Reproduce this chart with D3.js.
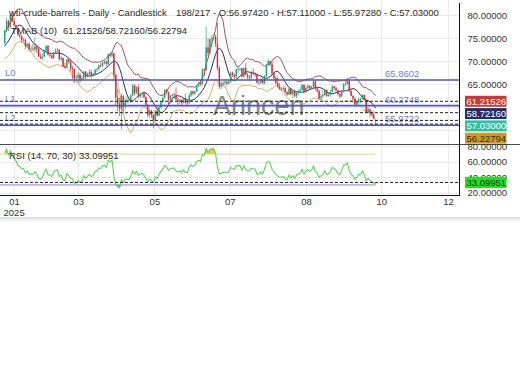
<!DOCTYPE html>
<html>
<head>
<meta charset="utf-8">
<script src="https://cdn.jsdelivr.net/npm/d3@7"></script>
<style>
  body { margin: 0; background: #fff; }
  svg { display: block; font-family: "Liberation Sans", Arial, sans-serif; }
</style>
</head>
<body>
<svg id="chart" width="520" height="390"></svg>
<script>
// ---- texts shown on the chart
var title = "wti-crude-barrels - Daily - Candlestick";
var quote = "198/217 - O:56.97420 - H:57.11000 - L:55.97280 - C:57.03000";
var tmabName = "TMAB (10)";
var tmabValues = "61.21526/58.72160/56.22794";
var rsiName = "RSI (14, 70, 30)";
var rsiValue = "33.09951";
var watermark = "Arincen";

// ---- daily bars (Jan 10 .. Oct 2025), one value per bar
var opens = [
  73.9,76.6,78.8,77.5,80.0,78.7,77.9,77.2,75.8,75.4,74.6,74.7,73.2,73.8,72.6,72.7,
  72.5,73.2,72.7,71.0,70.6,71.0,72.3,73.3,71.4,71.3,70.7,71.9,72.3,72.5,70.4,70.7,68.9,68.6,70.4,
  69.8,68.4,68.3,66.3,66.4,67.0,66.0,66.3,67.7,66.6,67.2,67.6,66.9,67.2,68.1,68.3,69.1,69.0,69.7,69.9,69.4,
  71.5,71.2,71.7,67.0,62.0,60.7,59.6,62.4,60.1,61.5,61.5,61.3,62.5,64.7,63.1,64.3,62.3,62.8,63.0,62.1,60.4,
  58.2,59.2,58.3,57.1,59.1,58.1,59.9,61.0,62.0,63.7,63.2,61.6,62.5,62.7,62.6,61.6,61.2,61.5,60.9,61.8,60.9,
  60.8,62.5,63.4,62.9,63.4,64.6,65.3,65.0,68.2,68.0,73.0,71.8,74.8,75.1,75.3,73.8,68.5,64.4,64.9,65.2,65.5,
  65.1,65.5,67.5,67.0,66.6,68.3,68.3,68.4,66.6,68.5,67.0,66.5,66.4,67.5,67.3,67.2,65.3,65.3,66.0,65.2,66.7,69.2,70.0,
  69.3,67.3,66.3,65.2,64.4,63.9,63.9,64.1,63.2,62.7,64.0,62.8,63.4,62.4,63.2,63.5,63.7,64.8,63.3,64.2,64.6,
  64.0,64.4,65.6,64.0,63.5,61.9,62.3,62.6,63.7,62.4,62.7,63.3,64.5,64.1,63.6,62.7,62.3,63.4,65.0,65.0,65.7,63.5,
  62.4,61.8,60.5,60.9,61.7,61.7,62.6,61.5,58.9,59.5,58.7,58.3,56.9742
];
var highs = [
  77.0,79.4,79.0,80.2,80.8,79.4,78.0,77.4,76.0,75.7,75.1,74.8,74.0,74.1,73.4,73.9,
  75.2,73.7,72.9,71.6,71.6,72.6,73.5,73.6,71.8,71.5,72.0,72.8,72.9,72.6,71.2,70.8,69.6,70.5,70.6,
  70.3,68.9,68.4,67.0,67.6,67.5,66.8,67.8,67.9,67.5,68.2,68.1,67.5,68.4,68.6,69.3,69.6,69.9,70.2,70.0,71.7,
  71.9,72.2,71.9,67.2,63.9,62.0,62.9,62.6,61.9,62.4,62.0,62.8,64.9,64.9,64.5,64.9,63.1,63.2,63.4,62.3,60.6,
  59.5,59.4,58.4,59.3,60.0,60.2,61.3,62.7,63.9,64.0,63.3,62.6,62.9,63.1,64.2,61.9,61.8,61.8,62.0,62.9,61.5,
  63.0,63.6,63.5,63.6,64.7,65.5,65.8,68.4,68.4,77.6,75.0,75.0,75.7,75.9,75.8,78.4,69.0,65.3,65.7,66.0,65.6,
  66.0,67.6,67.7,67.2,68.4,68.9,68.6,68.5,68.6,69.6,67.4,66.9,67.8,68.4,67.6,67.3,66.0,66.3,66.4,67.0,69.4,70.5,70.1,
  69.9,67.6,66.6,66.5,65.2,64.4,64.6,64.3,63.5,64.1,64.1,63.7,63.5,63.4,63.8,64.3,65.0,64.9,64.3,64.9,64.7,
  64.6,66.0,65.7,64.3,63.8,62.9,63.6,64.0,63.8,63.2,63.7,64.8,64.6,64.4,63.8,63.1,63.6,65.2,65.6,66.4,65.8,63.9,
  62.5,62.0,61.2,62.0,62.0,62.8,62.7,61.6,60.0,59.7,59.1,59.0,57.11
];
var lows = [
  73.7,76.4,76.6,77.3,78.5,77.6,76.8,75.5,75.1,74.0,74.1,72.6,73.0,72.1,72.0,72.3,
  71.9,71.8,70.9,70.5,70.2,70.9,71.8,71.2,70.8,70.4,70.5,71.6,71.8,70.2,70.0,68.6,68.3,68.5,69.5,
  67.8,66.0,65.2,65.7,65.2,65.2,65.6,65.9,66.1,66.4,66.9,66.2,66.6,66.8,67.6,68.1,68.7,68.6,69.3,68.9,69.1,
  70.8,70.9,65.6,60.2,59.0,58.0,55.1,58.8,59.4,60.7,60.8,60.9,62.3,62.5,62.8,61.9,61.9,62.0,61.8,60.3,57.8,
  57.6,57.5,55.3,56.9,57.9,57.9,59.6,60.9,61.8,62.8,60.6,61.4,61.2,61.7,61.4,60.3,60.6,60.3,60.7,60.7,60.1,
  60.7,62.1,62.5,62.6,63.2,64.3,64.6,64.7,66.7,67.9,71.0,71.4,73.1,74.5,73.1,68.0,64.0,63.9,64.6,64.8,64.6,
  64.9,65.3,66.5,66.0,66.1,67.5,67.8,66.4,66.4,66.9,66.1,65.7,65.9,67.0,66.6,65.1,64.8,65.0,64.9,64.9,66.5,68.9,68.9,
  67.0,65.8,64.9,64.2,63.7,63.4,63.5,62.9,62.4,62.6,62.5,62.0,62.1,61.9,62.6,63.0,63.5,62.9,63.0,63.8,63.8,
  63.9,64.2,63.6,63.1,61.5,61.4,62.0,62.4,62.1,62.2,62.3,63.2,63.6,63.3,62.5,61.9,62.1,63.3,64.6,64.9,63.2,62.3,
  61.5,60.3,60.1,60.8,60.9,61.6,61.3,58.6,58.6,57.7,57.9,57.3,55.9728
];
var closes = [
  76.6,78.8,77.5,80.0,78.7,77.9,77.2,75.8,75.4,74.6,74.7,73.2,73.8,72.6,72.7,72.5,
  73.2,72.7,71.0,70.6,71.0,72.3,73.3,71.4,71.3,70.7,71.9,72.3,72.5,70.4,70.7,68.9,68.6,70.4,69.8,
  68.4,68.3,66.3,66.4,67.0,66.0,66.3,67.7,66.6,67.2,67.6,66.9,67.2,68.1,68.3,69.1,69.0,69.7,69.9,69.4,71.5,
  71.2,71.7,67.0,62.0,60.7,59.6,62.4,60.1,61.5,61.5,61.3,62.5,64.7,63.1,64.3,62.3,62.8,63.0,62.1,60.4,58.2,
  59.2,58.3,57.1,59.1,58.1,59.9,61.0,62.0,63.7,63.2,61.6,62.5,62.7,62.6,61.6,61.2,61.5,60.9,61.8,60.9,60.8,
  62.5,63.4,62.9,63.4,64.6,65.3,65.0,68.2,68.0,73.0,71.8,74.8,75.1,75.3,73.8,68.5,64.4,64.9,65.2,65.5,65.1,
  65.5,67.5,67.0,66.6,68.3,68.3,68.4,66.6,68.5,67.0,66.5,66.4,67.5,67.3,67.2,65.3,65.3,66.0,65.2,66.7,69.2,70.0,69.3,
  67.3,66.3,65.2,64.4,63.9,63.9,64.1,63.2,62.7,64.0,62.8,63.4,62.4,63.2,63.5,63.7,64.8,63.3,64.2,64.6,64.0,
  64.4,65.6,64.0,63.5,61.9,62.3,62.6,63.7,62.4,62.7,63.3,64.5,64.1,63.6,62.7,62.3,63.4,65.0,65.0,65.7,63.5,62.4,
  61.8,60.5,60.9,61.7,61.7,62.6,61.5,58.9,59.5,58.7,58.3,57.5,57.03
];

// bars before the visible window, only used to warm up the indicators
var preHighs  = [70.9,70.7,71.4,71.5,70.9,70.9,70.6,69.9,69.7,70.2,70.2,70.7,71.2,72.0,73.5,74.2,74.7,74.8,74.3,74.1];
var preLows   = [68.4,69.6,69.8,70.5,69.9,69.5,68.9,68.8,68.7,69.1,69.1,69.2,70.3,70.4,71.4,72.9,73.3,73.5,72.7,73.1];
var preCloses = [70.3,70.0,71.3,70.7,70.1,70.6,69.9,69.5,69.2,70.1,69.6,70.6,71.0,71.7,73.1,74.0,73.6,74.3,73.3,73.9];

// ---- levels, last values and ticks
var levelNames = ["L0", "L1", "L2"];
var levelValues = [65.8602, 60.2748, 55.9722];
var lastValues = [61.21526, 58.72160, 57.03000, 56.22794]; // TMAB upper, TMAB mid, close, TMAB lower
var rsiLast = 33.09951;
var rsiBands = [70, 30];
var priceGrid = [55, 60, 65, 70, 75, 80];
var priceTicks = [65, 70, 75, 80];   // 55 and 60 sit under the value tags
var rsiTicks = [20, 40, 60, 80];
var monthBars = [5, 39, 79.5, 119.5, 160, 200, 235.5];
var monthLabels = ["01", "03", "05", "07", "08", "10", "12"];
var yearLabel = "2025";

// ---- styles
var col = {
  up: "#23a07f", down: "#e3262c",
  upper: "#a3545f", mid: "#2b2d6e", lower: "#c9b46c",
  level: "#5157ad", levelText: "#7081c6",
  rsi: "#5dd35d", ob: "#efdc9a", os: "#ab97e6",
  obFill: "#e2cd4f", osFill: "#8f86e0",
  grid: "#ebebeb", text: "#2a2a2a"
};
var tagFill = ["#c93a36", "#2a2c6a", "#2fbfa3", "#cf9a2c"];
var tagInk = ["#fff", "#fff", "#fff", "#3a2a00"];

var svg = d3.select("#chart");
var plotRight = 459.5;

var x = d3.scaleLinear().domain([0, 197]).range([4.7, 375.6]);
var y = d3.scaleLinear().domain([51.65, 83.38]).range([145, 0]);
var yr = d3.scaleLinear().domain([15.5, 80.5]).range([196, 146]);

svg.append("rect").attr("width", 520).attr("height", 390).attr("fill", "#fff");

var defs = svg.append("defs");
defs.append("clipPath").attr("id", "clipMain").append("rect")
  .attr("x", 0).attr("y", 0).attr("width", plotRight).attr("height", 144);
defs.append("clipPath").attr("id", "clipRsi").append("rect")
  .attr("x", 0).attr("y", 145).attr("width", plotRight).attr("height", 50.5);
var grad = defs.append("linearGradient").attr("id", "shade")
  .attr("x1", 0).attr("x2", 0).attr("y1", 0).attr("y2", 1);
grad.append("stop").attr("offset", "0%").attr("stop-color", "#dcdcdc");
grad.append("stop").attr("offset", "100%").attr("stop-color", "#fff");

// ---- indicators computed from the bars
var allC = preCloses.concat(closes);
var allH = preHighs.concat(highs);
var allL = preLows.concat(lows);
var off = preCloses.length;

function sma(arr, n) {
  return arr.map(function(v, i) {
    if (i < n - 1) return NaN;
    var win = arr.slice(i - n + 1, i + 1);
    if (win.some(function(w) { return isNaN(w); })) return NaN;
    return d3.mean(win);
  });
}
var tma = sma(sma(allC, 5), 6);
var tr = allC.map(function(c, i) {
  if (i === 0) return allH[i] - allL[i];
  return Math.max(allH[i] - allL[i], Math.abs(allH[i] - allC[i - 1]), Math.abs(allL[i] - allC[i - 1]));
});
var atr = sma(tr, 10);
var bandK = 1.7;

var rsiAll = allC.map(function() { return NaN; });
var ag = 0, al = 0;
for (var i = 1; i <= 14; i++) {
  var d0 = allC[i] - allC[i - 1];
  if (d0 > 0) ag += d0; else al -= d0;
}
ag /= 14; al /= 14;
rsiAll[14] = 100 - 100 / (1 + ag / al);
for (var j = 15; j < allC.length; j++) {
  var d1 = allC[j] - allC[j - 1];
  ag = (ag * 13 + Math.max(d1, 0)) / 14;
  al = (al * 13 + Math.max(-d1, 0)) / 14;
  rsiAll[j] = al === 0 ? 100 : 100 - 100 / (1 + ag / al);
}

var bars = d3.range(closes.length);
var upperBand = bars.map(function(i) { return tma[i + off] + bandK * atr[i + off]; });
var midBand = bars.map(function(i) { return tma[i + off]; });
var lowerBand = bars.map(function(i) { return tma[i + off] - bandK * atr[i + off]; });
var rsi = bars.map(function(i) { return rsiAll[i + off]; });

// ---- grid
var grid = svg.append("g");
grid.selectAll("line.h").data(priceGrid).join("line")
  .attr("x1", 0).attr("x2", plotRight)
  .attr("y1", function(d) { return Math.round(y(d)) + 0.5; })
  .attr("y2", function(d) { return Math.round(y(d)) + 0.5; })
  .attr("stroke", col.grid);
grid.selectAll("line.r").data(rsiTicks).join("line")
  .attr("x1", 0).attr("x2", plotRight)
  .attr("y1", function(d) { return Math.round(yr(d)) + 0.5; })
  .attr("y2", function(d) { return Math.round(yr(d)) + 0.5; })
  .attr("stroke", col.grid);
grid.selectAll("line.v").data(monthBars).join("line")
  .attr("x1", function(d) { return Math.round(x(d)) + 0.5; })
  .attr("x2", function(d) { return Math.round(x(d)) + 0.5; })
  .attr("y1", 0).attr("y2", 196)
  .attr("stroke", col.grid);

// ---- watermark
svg.append("text").attr("x", 213).attr("y", 115)
  .attr("font-size", 27).attr("fill", "#5e5e5e").attr("opacity", 0.75)
  .text(watermark);

// ---- main panel
var gMain = svg.append("g").attr("clip-path", "url(#clipMain)");

function bandLine(vals) {
  return d3.line()
    .defined(function(d) { return !isNaN(d); })
    .x(function(d, i) { return x(i); })
    .y(function(d) { return y(d); })(vals);
}
[[upperBand, col.upper], [lowerBand, col.lower], [midBand, col.mid]].forEach(function(b) {
  gMain.append("path").attr("d", bandLine(b[0]))
    .attr("fill", "none").attr("stroke", b[1]).attr("stroke-width", 1);
});

var candle = gMain.selectAll("g.candle").data(bars).join("g").attr("class", "candle");
function barColor(i) { return closes[i] >= opens[i] ? col.up : col.down; }
candle.append("line")
  .attr("x1", function(i) { return x(i); }).attr("x2", function(i) { return x(i); })
  .attr("y1", function(i) { return y(highs[i]); }).attr("y2", function(i) { return y(lows[i]); })
  .attr("stroke", barColor).attr("stroke-width", 0.7);
candle.append("rect")
  .attr("x", function(i) { return x(i) - 0.7; })
  .attr("width", 1.4)
  .attr("y", function(i) { return y(Math.max(opens[i], closes[i])); })
  .attr("height", function(i) { return Math.max(0.8, Math.abs(y(opens[i]) - y(closes[i]))); })
  .attr("fill", barColor);

// levels
levelValues.forEach(function(v, k) {
  var ly = y(v);
  svg.append("line").attr("x1", 0).attr("x2", plotRight).attr("y1", ly).attr("y2", ly)
    .attr("stroke", col.level).attr("stroke-width", 1.6);
  svg.append("text").attr("x", 5).attr("y", ly - 4)
    .attr("font-size", 9.5).attr("fill", col.levelText).text(levelNames[k]);
  svg.append("text").attr("x", 385).attr("y", ly - 3)
    .attr("font-size", 9.5).attr("fill", col.levelText).text(v.toFixed(4));
});

// last value dashed lines
lastValues.forEach(function(v) {
  svg.append("line").attr("x1", 0).attr("x2", plotRight).attr("y1", y(v)).attr("y2", y(v))
    .attr("stroke", "#222").attr("stroke-width", 1).attr("stroke-dasharray", "3,2");
});

// ---- RSI panel
var gRsi = svg.append("g").attr("clip-path", "url(#clipRsi)");
var xEnd = x(bars.length - 1);
rsiBands.forEach(function(v, k) {
  gRsi.append("line").attr("x1", 0).attr("x2", xEnd).attr("y1", yr(v)).attr("y2", yr(v))
    .attr("stroke", k === 0 ? col.ob : col.os).attr("stroke-width", 1.3);
});
gRsi.append("path")
  .attr("d", d3.area().defined(function(d) { return !isNaN(d); })
    .x(function(d, i) { return x(i); })
    .y0(yr(rsiBands[0]))
    .y1(function(d) { return yr(Math.max(d, rsiBands[0])); })(rsi))
  .attr("fill", col.obFill);
gRsi.append("path")
  .attr("d", d3.area().defined(function(d) { return !isNaN(d); })
    .x(function(d, i) { return x(i); })
    .y0(yr(rsiBands[1]))
    .y1(function(d) { return yr(Math.min(d, rsiBands[1])); })(rsi))
  .attr("fill", col.osFill);
gRsi.append("path")
  .attr("d", d3.line().defined(function(d) { return !isNaN(d); })
    .x(function(d, i) { return x(i); })
    .y(function(d) { return yr(d); })(rsi))
  .attr("fill", "none").attr("stroke", col.rsi).attr("stroke-width", 1.1);
svg.append("line").attr("x1", 0).attr("x2", plotRight).attr("y1", yr(rsiLast)).attr("y2", yr(rsiLast))
  .attr("stroke", "#222").attr("stroke-width", 1).attr("stroke-dasharray", "3,2");

// ---- frame
svg.append("line").attr("x1", 0).attr("x2", 520).attr("y1", 144.5).attr("y2", 144.5)
  .attr("stroke", "#4a4a4a");
svg.append("line").attr("x1", 0).attr("x2", plotRight).attr("y1", 195.5).attr("y2", 195.5)
  .attr("stroke", "#111");
svg.append("line").attr("x1", plotRight).attr("x2", plotRight).attr("y1", 3).attr("y2", 196)
  .attr("stroke", "#111");

// ---- axes
var axP = svg.append("g").attr("transform", "translate(" + plotRight + ",0)")
  .call(d3.axisRight(y).tickValues(priceTicks).tickFormat(d3.format(".5f")).tickSize(0).tickPadding(8));
var axR = svg.append("g").attr("transform", "translate(" + plotRight + ",0)")
  .call(d3.axisRight(yr).tickValues(rsiTicks).tickFormat(d3.format(".5f")).tickSize(0).tickPadding(8));
var axX = svg.append("g").attr("transform", "translate(0,196)")
  .call(d3.axisBottom(x).tickValues(monthBars)
    .tickFormat(function(d, i) { return monthLabels[i]; }).tickSize(0).tickPadding(2.5));
[axP, axR, axX].forEach(function(a) {
  a.select(".domain").remove();
  a.selectAll("text").attr("font-size", 9.5).attr("fill", "#333")
    .attr("font-family", "Liberation Sans, Arial, sans-serif");
});
svg.append("text").attr("x", x(monthBars[0])).attr("y", 215.5).attr("text-anchor", "middle")
  .attr("font-size", 9.5).attr("fill", "#333").text(yearLabel);

// ---- value tags on the right axis
var tagY = [];
lastValues.forEach(function(v, k) {
  var ty = y(v);
  if (k > 0) ty = Math.max(ty, tagY[k - 1] + 12.3);
  tagY.push(ty);
});
lastValues.forEach(function(v, k) {
  svg.append("rect").attr("x", 465).attr("y", tagY[k] - 5.5).attr("width", 41.5).attr("height", 11)
    .attr("fill", tagFill[k]);
  svg.append("text").attr("x", 466.5).attr("y", tagY[k] + 3.4)
    .attr("font-size", 9.5).attr("fill", tagInk[k]).text(v.toFixed(5));
});
svg.append("rect").attr("x", 465).attr("y", yr(rsiLast) - 5.5).attr("width", 41.5).attr("height", 11)
  .attr("fill", "#20e020");
svg.append("text").attr("x", 466.5).attr("y", yr(rsiLast) + 3.4)
  .attr("font-size", 9.5).attr("fill", "#1a3a1a").text(rsiValue);

// ---- legends
var leg = svg.append("g").attr("font-size", 9.5).attr("fill", col.text);
leg.append("text").attr("x", 9).attr("y", 15.5).text(title);
leg.append("text").attr("x", 176).attr("y", 15.5).text(quote);
leg.append("text").attr("x", 11).attr("y", 33.5).text(tmabName);
leg.append("text").attr("x", 63).attr("y", 33.5).text(tmabValues);
leg.append("text").attr("x", 9).attr("y", 158.5).text(rsiName);
leg.append("text").attr("x", 79).attr("y", 158.5).text(rsiValue);

// ---- bottom shade of the widget
svg.append("rect").attr("x", 0).attr("y", 217).attr("width", 520).attr("height", 5)
  .attr("fill", "url(#shade)");
</script>
</body>
</html>
